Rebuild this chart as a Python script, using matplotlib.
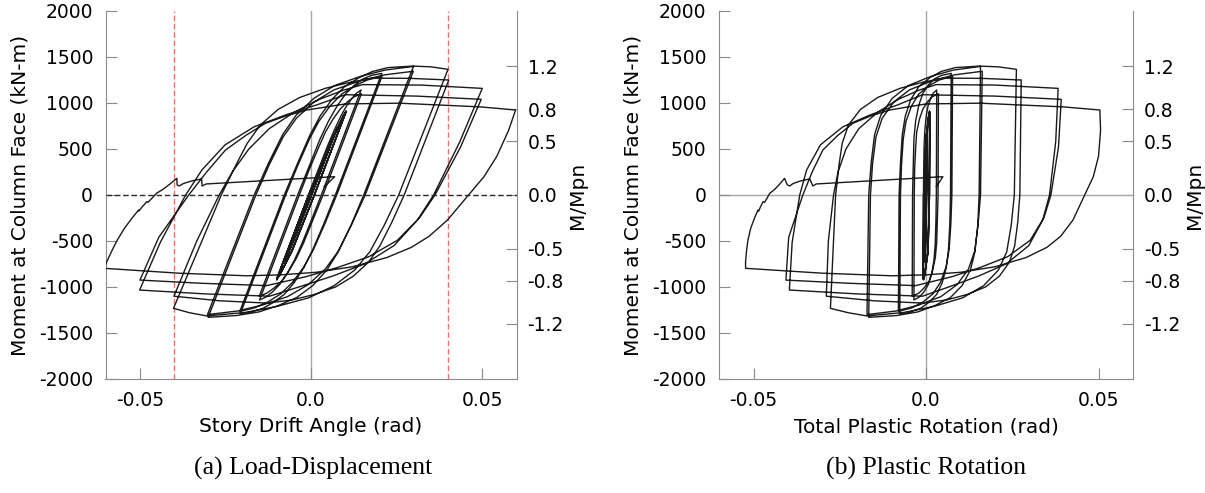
import numpy as np
import matplotlib
matplotlib.use("Agg")
import matplotlib.pyplot as plt

plt.rcParams['axes.unicode_minus'] = False
plt.rcParams['font.family'] = ['DejaVu Sans']

# ---------------- data ----------------
K_ELASTIC = 99000.0   # kN-m/rad, elastic unloading slope (drift = plastic + M/K)
MPN = 1166.0          # kN-m, nominal plastic moment (right axis M/Mpn)

# each list: (total plastic rotation [rad], moment at column face [kN-m])
loop_small = [(0.0, 0), (0.0001, 370), (0.0, 0), (-0.0001, -370), (0.0, 0), (0.0001, 370), (0.0, 0), (-0.0001, -370),
              (0.0, 0), (0.0002, 495), (0.0001, 0), (-0.0002, -495), (0.0, 0), (0.0002, 495), (0.0001, 0), (-0.0002, -495),
              (-0.0001, 0), (0.0001, 450), (0.0003, 720), (0.0002, 0), (0.0, -450), (-0.0003, -720),
              (-0.0002, 0), (0.0, 450), (0.0003, 730), (0.0002, 0), (0.0, -450), (-0.0003, -730)]
loop_010 = [(-0.0002, 0), (0.0002, 600), (0.0008, 860), (0.0010, 915), (0.0009, 0), (0.0005, -600), (-0.0003, -860), (-0.0007, -924),
            (-0.0006, 0), (0.0, 620), (0.0008, 880), (0.0011, 905), (0.0010, 0), (0.0006, -620), (-0.0004, -880), (-0.0008, -915),
            (-0.0007, 0), (0.0, 610), (0.0008, 870), (0.0011, 900), (0.0010, 0), (0.0006, -610), (-0.0004, -870), (-0.0008, -910),
            (-0.0007, 0), (0.0, 610), (0.0008, 865), (0.0011, 895), (0.0010, 0), (0.0006, -610), (-0.0004, -865), (-0.0008, -915)]
loop_015 = [(-0.00074, 0), (-0.00066, 285), (-0.00055, 536), (-0.00033, 707), (0.00006, 856), (0.0006, 970), (0.00135, 1050), (0.0021, 1107), (0.0031, 1141),
            (0.0030, 0), (0.00287, -285), (0.00267, -536), (0.00231, -707), (0.00165, -856), (0.00072, -970), (-0.00053, -1050), (-0.00185, -1107), (-0.0035, -1141),
            (-0.0034, 0), (-0.0033, 275), (-0.0030, 517), (-0.0027, 682), (-0.0019, 825), (-0.0009, 935), (0.0004, 1012), (0.0018, 1067), (0.0036, 1100),
            (0.0035, 0), (0.0033, -275), (0.0031, -517), (0.0027, -682), (0.0019, -825), (0.0009, -935), (-0.0006, -1012), (-0.0021, -1067), (-0.0040, -1100)]
loop_020 = [(-0.0039, 0), (-0.0037, 325), (-0.0035, 611), (-0.0030, 806), (-0.0021, 975), (-0.0009, 1105), (0.0007, 1196), (0.0024, 1261), (0.0045, 1300), (0.0073, 1322),
            (0.0071, 0), (0.0069, -318), (0.0065, -597), (0.0059, -787), (0.0047, -953), (0.0031, -1080), (0.0008, -1168), (-0.0016, -1232), (-0.0045, -1270), (-0.0076, -1293),
            (-0.0074, 0), (-0.0071, 323), (-0.0066, 606), (-0.0058, 800), (-0.0042, 968), (-0.0021, 1097), (0.0008, 1187), (0.0039, 1251), (0.0077, 1290),
            (0.0075, 0), (0.0072, -316), (0.0067, -595), (0.0058, -784), (0.0042, -949), (0.0020, -1075), (-0.0009, -1164), (-0.0041, -1227), (-0.0080, -1265)]
loop_030 = [(-0.0078, 0), (-0.0074, 346), (-0.0069, 651), (-0.0060, 859), (-0.0044, 1039), (-0.0021, 1177), (0.0011, 1274), (0.0044, 1343), (0.0085, 1385), (0.0158, 1402),
            (0.0154, 0), (0.0150, -328), (0.0142, -616), (0.0129, -812), (0.0105, -983), (0.0071, -1114), (0.0024, -1205), (-0.0024, -1271), (-0.0085, -1310), (-0.0166, -1330),
            (-0.0161, 0), (-0.0155, 336), (-0.0145, 632), (-0.0127, 834), (-0.0094, 1009), (-0.0048, 1143), (0.0015, 1237), (0.0081, 1305), (0.0163, 1345),
            (0.0158, 0), (0.0151, -325), (0.0141, -611), (0.0123, -806), (0.0090, -975), (0.0043, -1105), (-0.0021, -1196), (-0.0087, -1261), (-0.0171, -1300)]
loop_040 = [(-0.0166, 0), (-0.0159, 350), (-0.0149, 658), (-0.0131, 868), (-0.0098, 1050), (-0.0051, 1190), (0.0013, 1288), (0.0079, 1358), (0.0163, 1400), (0.0210, 1393), (0.0262, 1366),
            (0.0256, 0), (0.0247, -329), (0.0234, -618), (0.0210, -815), (0.0167, -986), (0.0106, -1118), (0.0024, -1210), (-0.0063, -1276), (-0.0171, -1315), (-0.0225, -1280), (-0.0277, -1232),
            (-0.0262, 0), (-0.0252, 330), (-0.0243, 560), (-0.0225, 760), (-0.0190, 930), (-0.0140, 1060), (-0.0075, 1160), (-0.0010, 1225), (0.0050, 1270), (0.0160, 1268), (0.0276, 1250),
            (0.0272, 0), (0.0266, -294), (0.0257, -552), (0.0242, -729), (0.0213, -881), (0.0173, -999), (0.0119, -1081), (0.0061, -1140), (-0.0010, -1175), (-0.0150, -1150), (-0.0289, -1100)]
loop_050 = [(-0.0283, -500), (-0.0268, 0), (-0.0255, 250), (-0.0232, 500), (-0.0195, 720), (-0.0140, 900), (-0.0080, 1040), (-0.0020, 1140), (0.0030, 1200), (0.0200, 1195), (0.0383, 1159),
            (0.0376, 580), (0.0358, 0), (0.0338, -275), (0.0298, -550), (0.0233, -748), (0.0153, -880), (0.0073, -990), (-0.0010, -1100), (-0.0200, -1075), (-0.0396, -1033),
            (-0.0388, -516), (-0.0366, 0), (-0.0346, 272), (-0.0306, 545), (-0.0241, 741), (-0.0161, 872), (-0.0081, 981), (-0.0010, 1090), (0.0200, 1075), (0.0392, 1040),
            (0.0384, 520), (0.0362, 0), (0.0342, -246), (0.0302, -492), (0.0237, -670), (0.0157, -788), (0.0077, -886), (-0.0030, -985), (-0.0220, -960), (-0.0406, -925)]
loop_060 = [(-0.0398, -460), (-0.0357, 0), (-0.0330, 250), (-0.0299, 489), (-0.0255, 650), (-0.0212, 779), (-0.0160, 860), (-0.0105, 924), (0.0, 990), (0.0156, 998), (0.0262, 980), (0.0397, 958), (0.0504, 924),
            (0.0506, 700), (0.0500, 420), (0.0485, 200), (0.0460, 0), (0.0426, -272), (0.0390, -450), (0.0350, -570), (0.0290, -680), (0.0200, -780), (0.0100, -840), (0.0, -868), (-0.0100, -878), (-0.0300, -850), (-0.0523, -797)]
loop_final = [(-0.0523, -725), (-0.0520, -600), (-0.0516, -489), (-0.0508, -360), (-0.0497, -250), (-0.0487, -163), (-0.0485, -175), (-0.0480, -130),
              (-0.0472, -72), (-0.0468, -80), (-0.0460, -30), (-0.0453, 18), (-0.0439, 60), (-0.0425, 115), (-0.0410, 181), (-0.0402, 110),
              (-0.0395, 98), (-0.0385, 125), (-0.0366, 150), (-0.0337, 175), (-0.0328, 98), (-0.0318, 120), (0.0049, 199), (0.0030, 90)]

moment_ticks = [-2000, -1500, -1000, -500, 0, 500, 1000, 1500, 2000]
rot_ticks = [-0.05, 0.0, 0.05]
rot_tick_labels = ['-0.05', '0.0', '0.05']
ratio_ticks = [1.2, 0.8, 0.5, 0.0, -0.5, -0.8, -1.2]
ratio_labels = ['1.2', '0.8', '0.5', '0.0', '-0.5', '-0.8', '-1.2']
red_limits = [-0.04, 0.04]

# ---------------- assemble ----------------
loops = [loop_small, loop_010, loop_015, loop_020, loop_030, loop_040, loop_050, loop_060, loop_final]
pts = np.array([p for lp in loops for p in lp], dtype=float)
plastic = pts[:, 0]
moment = pts[:, 1]
drift = plastic + moment / K_ELASTIC

W, H = 1205, 493
fig = plt.figure(figsize=(W / 100, H / 100), dpi=100)
ax1 = fig.add_axes([105.5 / W, 1 - 379 / H, 411 / W, 368 / H])
ax2 = fig.add_axes([719 / W, 1 - 379 / H, 414 / W, 368 / H])

grey = '#8a8a8a'
curve_col = '#1a1a1a'

for ax, x, xlabel in [(ax1, drift, 'Story Drift Angle (rad)'), (ax2, plastic, 'Total Plastic Rotation (rad)')]:
    ax.axvline(0, color='#a8a8a8', lw=1.0, zorder=1)
    if ax is ax2:
        ax.axhline(0, color='#a8a8a8', lw=1.0, zorder=1)
    ax.plot(x, moment, color=curve_col, lw=1.0, zorder=3)
    ax.set_xlim(-0.06, 0.06)
    ax.set_ylim(-2000, 2000)
    ax.set_xticks(rot_ticks)
    ax.set_xticklabels(rot_tick_labels)
    ax.set_yticks(moment_ticks)
    ax.tick_params(direction='in', length=8, color=grey, labelsize=13.5, pad=9)
    ax.spines['top'].set_visible(False)
    ax.spines['right'].set_visible(False)
    for s in ['left', 'bottom']:
        ax.spines[s].set_color(grey)
    ax.set_xlabel(xlabel, fontsize=14.5, labelpad=5)
    ax.set_ylabel('Moment at Column Face (kN-m)', fontsize=14.5, labelpad=7)
    sec = ax.secondary_yaxis('right', functions=(lambda m: m / MPN, lambda r: r * MPN))
    sec.set_yticks(ratio_ticks)
    sec.set_yticklabels(ratio_labels)
    sec.tick_params(direction='in', length=8, color=grey, labelsize=13.5, pad=8)
    sec.spines['right'].set_color(grey)
    sec.set_ylabel('M/Mpn', fontsize=14.5, labelpad=3)

for xr in red_limits:
    ax1.axvline(xr, color='#ff6a6a', lw=1.0, ls=(0, (4, 2)), zorder=2)
ax1.axhline(0, color='#2a2a2a', lw=1.0, ls=(0, (4, 2)), zorder=4)

fig.text(313 / W, 1 - 468 / H, '(a) Load-Displacement', ha='center', va='center',
         family='Liberation Serif', fontsize=18.5)
fig.text(926 / W, 1 - 468 / H, '(b) Plastic Rotation', ha='center', va='center',
         family='Liberation Serif', fontsize=18.5)

fig.savefig('out.png', dpi=100)
